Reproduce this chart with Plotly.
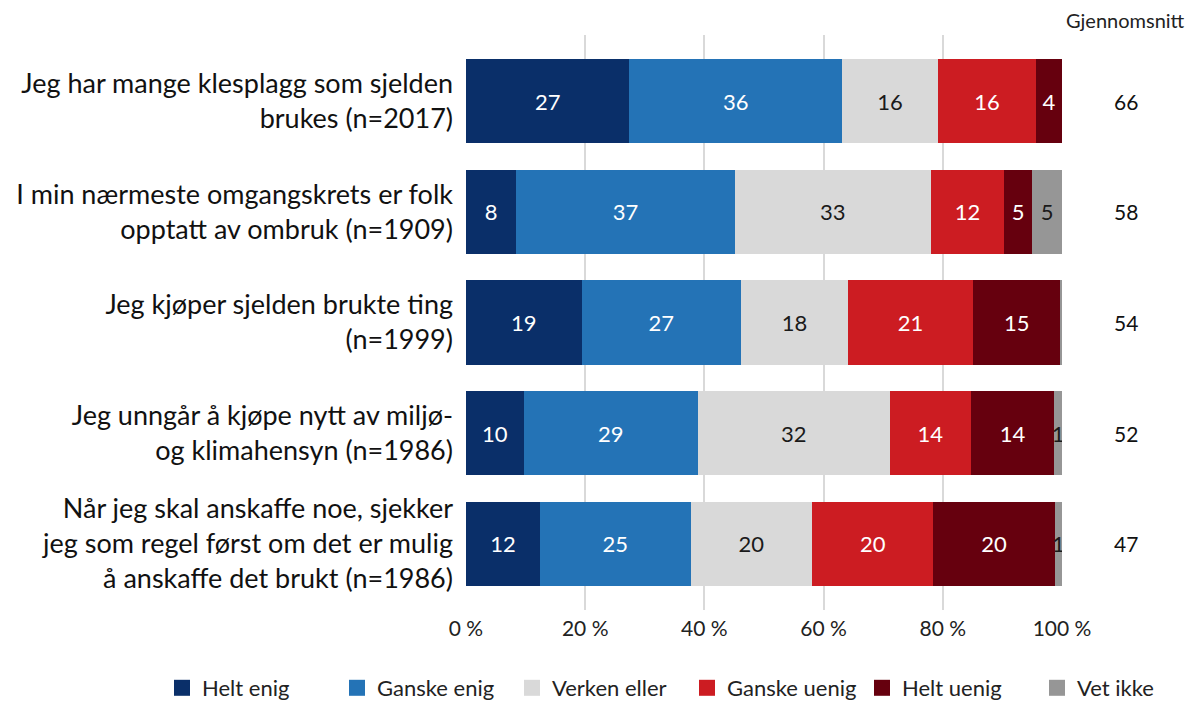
import plotly.graph_objects as go

categories = [
    "Jeg har mange klesplagg som sjelden<br>brukes (n=2017)",
    "I min nærmeste omgangskrets er folk<br>opptatt av ombruk (n=1909)",
    "Jeg kjøper sjelden brukte ting<br>(n=1999)",
    "Jeg unngår å kjøpe nytt av miljø-<br>og klimahensyn (n=1986)",
    "Når jeg skal anskaffe noe, sjekker<br>jeg som regel først om det er mulig<br>å anskaffe det brukt (n=1986)",
]
series_names = ["Helt enig", "Ganske enig", "Verken eller", "Ganske uenig", "Helt uenig", "Vet ikke"]
helt_enig = [27.4, 8.4, 19.4, 9.7, 12.4]
ganske_enig = [35.7, 36.7, 26.7, 29.2, 25.3]
verken_eller = [16.1, 32.9, 18.0, 32.2, 20.4]
ganske_uenig = [16.4, 12.3, 21.0, 13.6, 20.3]
helt_uenig = [4.4, 4.7, 14.6, 14.0, 20.4]
vet_ikke = [0.0, 5.0, 0.3, 1.3, 1.2]
gjennomsnitt = [66, 58, 54, 52, 47]

colors = ["#0A2F69", "#2473B6", "#D9D9D9", "#CC1C22", "#66000E", "#969696"]
text_colors = ["white", "white", "#1a1a1a", "white", "white", "#1a1a1a"]
all_series = [helt_enig, ganske_enig, verken_eller, ganske_uenig, helt_uenig, vet_ikke]

FONT = "Lato"
W, H = 1194, 702
OFF = 8  # default page body margin
L, T = 466 - OFF, 35 - OFF
PW, PH = 596, 575

fig = go.Figure()
for name, vals, col, tcol in zip(series_names, all_series, colors, text_colors):
    labels = [str(int(round(v))) if round(v) >= 1 else "" for v in vals]
    fig.add_trace(go.Bar(
        y=categories, x=vals, name=name, orientation="h",
        marker=dict(color=col, line=dict(width=0)),
        text=labels, texttemplate="%{text}", textposition="inside",
        insidetextanchor="middle", textangle=0,
        textfont=dict(color=tcol, size=22, family=FONT),
        hoverinfo="skip", showlegend=False,
    ))
# legend entries with larger square swatches
for name, col in zip(series_names, colors):
    fig.add_trace(go.Scatter(
        x=[None], y=[None], mode="markers", name=name,
        marker=dict(symbol="square", size=18, color=col, line=dict(width=0)),
        hoverinfo="skip",
    ))

for cat, g in zip(categories, gjennomsnitt):
    fig.add_annotation(x=(1126 - 466) / PW, xref="paper", y=cat, yref="y", text=str(g),
                       showarrow=False, font=dict(size=21, color="#111", family=FONT),
                       xanchor="center")
fig.add_annotation(x=(1125 - 466) / PW, xref="paper", y=1 + 15 / PH,
                   yref="paper", text="Gjennomsnitt", showarrow=False,
                   yanchor="middle", xanchor="center",
                   font=dict(size=20, color="#222", family=FONT))

fig.update_layout(
    barmode="stack", bargap=0.24,
    width=W, height=H,
    margin=dict(l=L, r=W - L - PW, t=T, b=H - T - PH, autoexpand=False),
    paper_bgcolor="white", plot_bgcolor="white",
    font=dict(family=FONT, color="#222"),
    uniformtext=dict(minsize=22, mode="show"),
    xaxis=dict(range=[0, 100], tickvals=[0, 20, 40, 60, 80, 100],
               ticktext=["0 %", "20 %", "40 %", "60 %", "80 %", "100 %"],
               showgrid=True, gridcolor="#D9D9D9", gridwidth=2, zeroline=False,
               tickfont=dict(size=21, color="#222"), ticks="", showline=False,
               ticklabelstandoff=4),
    yaxis=dict(categoryorder="array", categoryarray=categories[::-1],
               range=[-0.6, 4.6], ticks="", ticklabelstandoff=12,
               tickfont=dict(size=27, color="#111"), showgrid=False),
    legend=dict(orientation="h", xref="paper", x=(162 - OFF - L) / PW, xanchor="left",
                yref="paper", y=-(688 - OFF - (T + PH)) / PH, yanchor="middle",
                entrywidth=130, entrywidthmode="pixels", itemsizing="trace",
                font=dict(size=22, color="#222"), traceorder="normal"),
)
fig.write_html("out.html")
